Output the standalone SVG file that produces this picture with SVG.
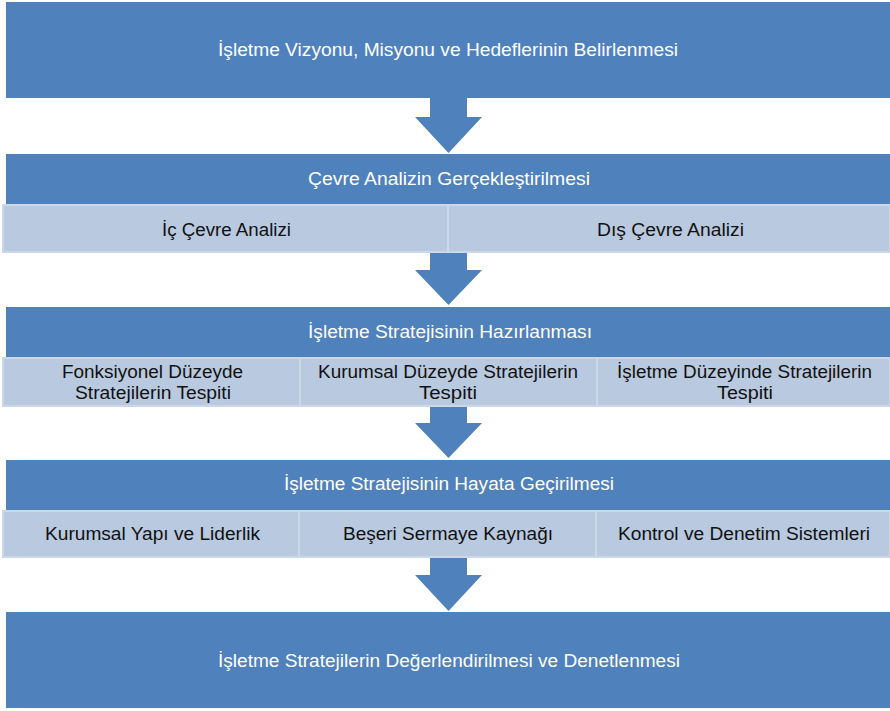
<svg xmlns="http://www.w3.org/2000/svg" width="890" height="711" viewBox="0 0 890 711">
<style>
.main{fill:#4F81BD;}
.sub{fill:#B9C9DF;stroke:#CCD7E8;stroke-width:2;}
.arrow{fill:#4F81BD;}
.wt{font-family:"Liberation Sans",Arial,sans-serif;font-size:17.5px;fill:#FFFFFF;text-anchor:middle;}
.bt{font-family:"Liberation Sans",Arial,sans-serif;font-size:17.5px;fill:#111111;text-anchor:middle;}
</style>
<rect width="890" height="711" fill="#FFFFFF"/>
<g id="connectors">
<polygon class="arrow" points="430,97 467,97 467,117 482,117 448.5,153 415,117 430,117"/>
<polygon class="arrow" points="430,253 467,253 467,270 482,270 448.5,305 415,270 430,270"/>
<polygon class="arrow" points="430,406 467,406 467,423 482,423 448.5,458 415,423 430,423"/>
<polygon class="arrow" points="430,557 467,557 467,575 482,575 448.5,611 415,575 430,575"/>
</g>
<g id="node1">
<rect class="main" x="6" y="2" width="884" height="96"/>
<text class="wt" x="448" y="56" textLength="460" lengthAdjust="spacingAndGlyphs">İşletme Vizyonu, Misyonu ve Hedeflerinin Belirlenmesi</text>
</g>
<g id="node2">
<rect class="main" x="6" y="154" width="884" height="51"/>
<text class="wt" x="449" y="185" textLength="282" lengthAdjust="spacingAndGlyphs">Çevre Analizin  Gerçekleştirilmesi</text>
</g>
<g id="node2a">
<rect class="sub" x="3" y="205" width="445" height="47"/>
<text class="bt" x="226.5" y="236" textLength="129" lengthAdjust="spacingAndGlyphs">İç Çevre Analizi</text>
</g>
<g id="node2b">
<rect class="sub" x="448" y="205" width="442" height="47"/>
<text class="bt" x="670.5" y="236" textLength="147" lengthAdjust="spacingAndGlyphs">Dış Çevre Analizi</text>
</g>
<g id="node3">
<rect class="main" x="6" y="307" width="884" height="51"/>
<text class="wt" x="450" y="338" textLength="284" lengthAdjust="spacingAndGlyphs">İşletme Stratejisinin Hazırlanması</text>
</g>
<g id="node3a">
<rect class="sub" x="3" y="358" width="297" height="48"/>
<text class="bt" x="152.5" y="378" textLength="181" lengthAdjust="spacingAndGlyphs">Fonksiyonel Düzeyde</text>
<text class="bt" x="153" y="399" textLength="156" lengthAdjust="spacingAndGlyphs">Stratejilerin Tespiti</text>
</g>
<g id="node3b">
<rect class="sub" x="300" y="358" width="297" height="48"/>
<text class="bt" x="448" y="378" textLength="260" lengthAdjust="spacingAndGlyphs">Kurumsal Düzeyde Stratejilerin</text>
<text class="bt" x="448" y="399" textLength="58" lengthAdjust="spacingAndGlyphs">Tespiti</text>
</g>
<g id="node3c">
<rect class="sub" x="597" y="358" width="293" height="48"/>
<text class="bt" x="744.5" y="378" textLength="255" lengthAdjust="spacingAndGlyphs">İşletme Düzeyinde Stratejilerin</text>
<text class="bt" x="745" y="399" textLength="56" lengthAdjust="spacingAndGlyphs">Tespiti</text>
</g>
<g id="node4">
<rect class="main" x="6" y="460" width="884" height="51"/>
<text class="wt" x="449" y="490" textLength="330" lengthAdjust="spacingAndGlyphs">İşletme Stratejisinin Hayata  Geçirilmesi</text>
</g>
<g id="node4a">
<rect class="sub" x="3" y="511" width="296" height="46"/>
<text class="bt" x="152.5" y="540" textLength="215" lengthAdjust="spacingAndGlyphs">Kurumsal Yapı ve Liderlik</text>
</g>
<g id="node4b">
<rect class="sub" x="299" y="511" width="297" height="46"/>
<text class="bt" x="448" y="540" textLength="210" lengthAdjust="spacingAndGlyphs">Beşeri Sermaye Kaynağı</text>
</g>
<g id="node4c">
<rect class="sub" x="596" y="511" width="294" height="46"/>
<text class="bt" x="744" y="540" textLength="252" lengthAdjust="spacingAndGlyphs">Kontrol ve Denetim Sistemleri</text>
</g>
<g id="node5">
<rect class="main" x="6" y="612" width="884" height="96"/>
<text class="wt" x="449" y="667" textLength="462" lengthAdjust="spacingAndGlyphs">İşletme Stratejilerin Değerlendirilmesi ve Denetlenmesi</text>
</g>
</svg>
